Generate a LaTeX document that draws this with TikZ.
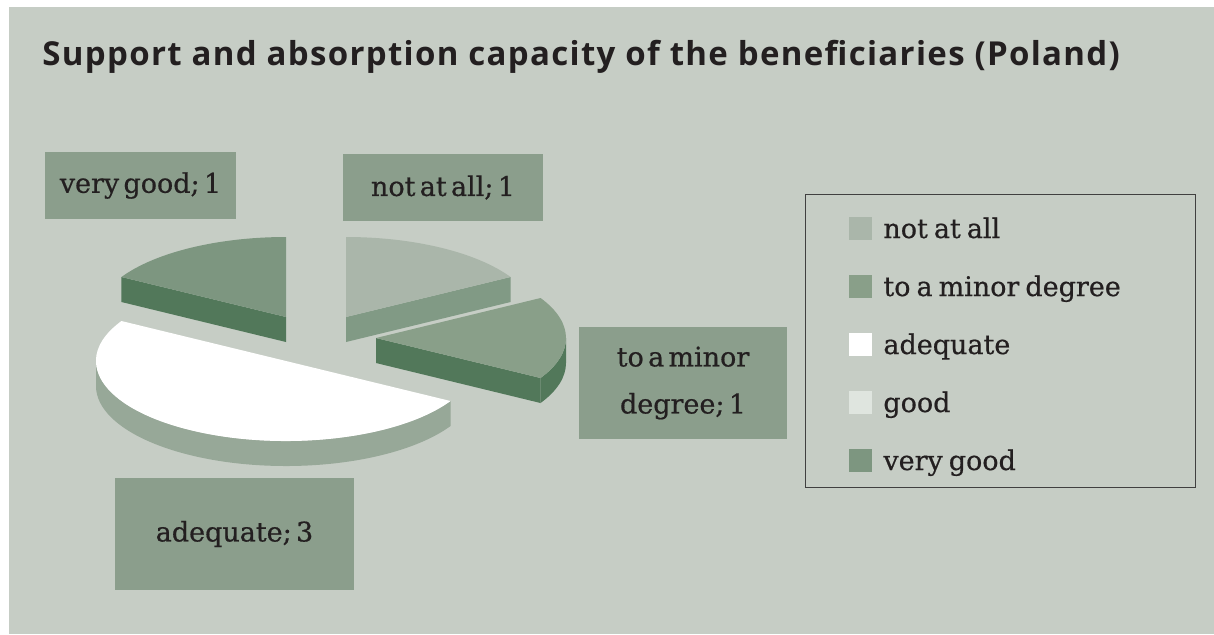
\documentclass[tikz,border=0pt]{standalone}
\usepackage{fontspec}
\setmainfont{DejaVu Serif}[WordSpace=0.7, FakeBold=0.6]
\newfontfamily\tightfont{DejaVu Serif}[WordSpace=0.5, FakeBold=0.6]
\newfontfamily\titlefont[LetterSpace=4]{Open Sans}

\definecolor{panel}{HTML}{C6CDC5}
\definecolor{boxgreen}{HTML}{8B9E8C}
\definecolor{ink}{HTML}{231F20}
\definecolor{notatall}{HTML}{AAB6AA}
\definecolor{notatallside}{HTML}{819A85}
\definecolor{minor}{HTML}{899F89}
\definecolor{darkside}{HTML}{52785A}
\definecolor{verygood}{HTML}{7D9680}
\definecolor{adequateside}{HTML}{97A898}
\definecolor{good}{HTML}{DFE5DF}

\begin{document}
\begin{tikzpicture}[x=0.5pt,y=-0.5pt]
        \tikzstyle{lbl} = [rectangle, fill=boxgreen, text=ink, align=center, inner sep=0pt, font=\fontsize{13.5}{23.5}\tightfont]
        \tikzstyle{swatch} = [rectangle, minimum size=11.5pt, inner sep=0pt]
        \tikzstyle{key} = [anchor=base west, text=ink, inner sep=0pt, font=\fontsize{13.5}{15}\selectfont]
        \tikzstyle{slice} = [x radius=190, y radius=80]
        \useasboundingbox (0,0) rectangle (1214,634);
        \fill[white] (0,0) rectangle (1214,634);
        \fill[panel] (9,7) rectangle (1214,634);
        \node[anchor=base west, inner sep=0pt, text=ink, font=\fontsize{16.5}{18}\titlefont\bfseries] (title) at (42,65) {Support and absorption capacity of the beneficiaries (Poland)};
        % not at all
        \fill[notatallside] (346,317) -- ++(-30:190 and 80) -- ++(0,25) -- (346,342) -- cycle;
        \fill[notatall] (346,317) -- ++(-90:190 and 80) arc[slice, start angle=-90, end angle=-30] -- cycle;
        % very good
        \fill[darkside] (286,317) -- ++(210:190 and 80) -- ++(0,25) -- (286,342) -- cycle;
        \fill[verygood] (286,317) -- ++(210:190 and 80) arc[slice, start angle=210, end angle=270] -- cycle;
        % to a minor degree
        \fill[darkside] (376,338) -- ++(30:190 and 80) -- ++(0,25) -- (376,363) -- cycle;
        \fill[darkside] (376,338) ++(0:190 and 80) arc[slice, start angle=0, end angle=30] -- ++(0,25) arc[slice, start angle=30, end angle=0] -- cycle;
        \fill[minor] (376,338) -- ++(-30:190 and 80) arc[slice, start angle=-30, end angle=30] -- cycle;
        % adequate
        \fill[adequateside] (286,361) ++(30:190 and 80) arc[slice, start angle=30, end angle=180] -- ++(0,25) arc[slice, start angle=180, end angle=30] -- cycle;
        \fill[white] (286,361) -- ++(30:190 and 80) arc[slice, start angle=30, end angle=210] -- cycle;
        % data labels
        \node[lbl, minimum width=95.5pt, minimum height=33.5pt] (verygoodlbl) at (140.5,185.5) {very good; 1};
        \node[lbl, minimum width=100pt, minimum height=33.5pt] (notatalllbl) at (443,187.5) {not at all; 1};
        \node[lbl, minimum width=104pt, minimum height=56pt] (minorlbl) at (683,383) {to a minor\\degree; 1};
        \node[lbl, minimum width=119.5pt, minimum height=56pt] (adequatelbl) at (234.5,534) {adequate; 3};
        % legend
        \node[draw=black!75, line width=0.5pt, minimum width=195pt, minimum height=146.5pt, inner sep=0pt] (legend) at (1000,340.5) {};
        \node[swatch, fill=notatall] (sw1) at (860.5,228.5) {};
        \node[swatch, fill=minor] (sw2) at (860.5,286.5) {};
        \node[swatch, fill=white] (sw3) at (860.5,344.5) {};
        \node[swatch, fill=good] (sw4) at (860.5,402.5) {};
        \node[swatch, fill=verygood] (sw5) at (860.5,460.5) {};
        \node[key] (key1) at (883,238) {not at all};
        \node[key] (key2) at (883,296) {to a minor degree};
        \node[key] (key3) at (883,354) {adequate};
        \node[key] (key4) at (883,412) {good};
        \node[key] (key5) at (883,470) {very good};
    \end{tikzpicture}
\end{document}
